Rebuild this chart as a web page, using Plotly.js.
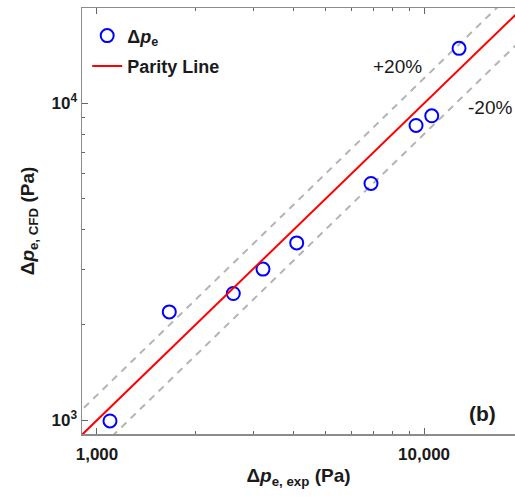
<!DOCTYPE html>
<html>
<head>
<meta charset="utf-8">
<script src="https://cdn.plot.ly/plotly-3.0.1.min.js"></script>
<style>
html,body{margin:0;padding:0;background:#fff;overflow:hidden;}
#chart{width:515px;height:497px;}
</style>
</head>
<body>
<div id="chart"></div>
<script>
// Experimental vs CFD pressure drop (Pa)
const dpExp = [1096, 1664, 2611, 3218, 4080, 6884, 9452, 10556, 12794];
const dpCFD = [995, 2198, 2512, 2999, 3629, 5590, 8520, 9137, 14920];
// Reference line span (Pa)
const refSpan = [800, 25000];
const bandFactors = [1.2, 0.8];
const xTickVals = [1000, 10000];
const xTickText = ['1,000', '10,000'];
const yTickVals = [1000, 10000];
const yTickText = ['10<sup>3</sup>', '10<sup>4</sup>'];
const minorVals = [900, 2000, 3000, 4000, 5000, 6000, 7000, 8000, 9000, 20000];

const FONT = 'Liberation Sans, Arial, sans-serif';
const bandStyle = {color: '#b4b4b4', width: 2, dash: '7px,6px'};

const traces = [
  {x: refSpan, y: refSpan.map(v => v * bandFactors[0]), mode: 'lines', line: bandStyle, showlegend: false, hoverinfo: 'skip'},
  {x: refSpan, y: refSpan.map(v => v * bandFactors[1]), mode: 'lines', line: bandStyle, showlegend: false, hoverinfo: 'skip'},
  {x: dpExp, y: dpCFD, mode: 'markers', name: '<b>Δ<i>p</i><sub>e</sub></b>', legendgroup: 'a',
   marker: {symbol: 'circle-open', size: 13, color: '#0000ff', line: {width: 2, color: '#0000ff'}}},
  {x: refSpan, y: refSpan, mode: 'lines', name: '<b>Parity Line</b>', legendgroup: 'b', line: {color: '#ff0000', width: 2}}
];

const axisCommon = {
  type: 'log', showgrid: false, zeroline: false,
  showline: true, linecolor: '#8c8c8c', linewidth: 1.5,
  ticks: 'inside', ticklen: 6, tickwidth: 1, tickcolor: '#666',
  tickmode: 'array',
  tickfont: {family: FONT, size: 17, color: '#1a1a1a', weight: 'bold'},
  minor: {ticks: 'inside', ticklen: 3, tickcolor: '#666', tickmode: 'array', tickvals: minorVals}
};

const layout = {
  width: 515, height: 497,
  margin: {l: 82, r: 0, t: 8, b: 63},
  paper_bgcolor: '#fff', plot_bgcolor: '#fff',
  font: {family: FONT, color: '#1a1a1a'},
  xaxis: Object.assign({}, axisCommon, {
    range: [Math.log10(900), Math.log10(18970)],
    tickvals: xTickVals, ticktext: xTickText, mirror: 'ticks', ticklabelstandoff: 4,
    title: {text: '<b>Δ<i>p</i><sub>e, exp</sub> (Pa)</b>', font: {family: FONT, size: 19, color: '#1a1a1a'}, standoff: 6}
  }),
  yaxis: Object.assign({}, axisCommon, {
    range: [Math.log10(905), Math.log10(20000)],
    tickvals: yTickVals, ticktext: yTickText, mirror: false,
    title: {text: '<b>Δ<i>p</i><sub>e, CFD</sub> (Pa)</b>', font: {family: FONT, size: 19, color: '#1a1a1a'}, standoff: 12}
  }),
  legend: {x: 0.012, y: 0.978, xanchor: 'left', yanchor: 'top', bgcolor: 'rgba(0,0,0,0)',
           font: {family: FONT, size: 18, color: '#1a1a1a'}, tracegroupgap: 4, itemwidth: 30},
  annotations: [
    {xref: 'paper', yref: 'paper', x: (397 - 82) / 433, y: (434 - 66.5) / 426, text: '+20%', showarrow: false,
     xanchor: 'center', yanchor: 'middle', font: {family: FONT, size: 19, color: '#1a1a1a'}},
    {xref: 'paper', yref: 'paper', x: (489.5 - 82) / 433, y: (434 - 107.5) / 426, text: '-20%', showarrow: false,
     xanchor: 'center', yanchor: 'middle', font: {family: FONT, size: 19, color: '#1a1a1a'}},
    {xref: 'paper', yref: 'paper', x: (482.5 - 82) / 433, y: (434 - 413) / 426, text: '<b>(b)</b>', showarrow: false,
     xanchor: 'center', yanchor: 'middle', font: {family: FONT, size: 21, color: '#1a1a1a'}}
  ],
  showlegend: true
};

Plotly.newPlot('chart', traces, layout, {displayModeBar: false, staticPlot: true});
</script>
</body>
</html>
